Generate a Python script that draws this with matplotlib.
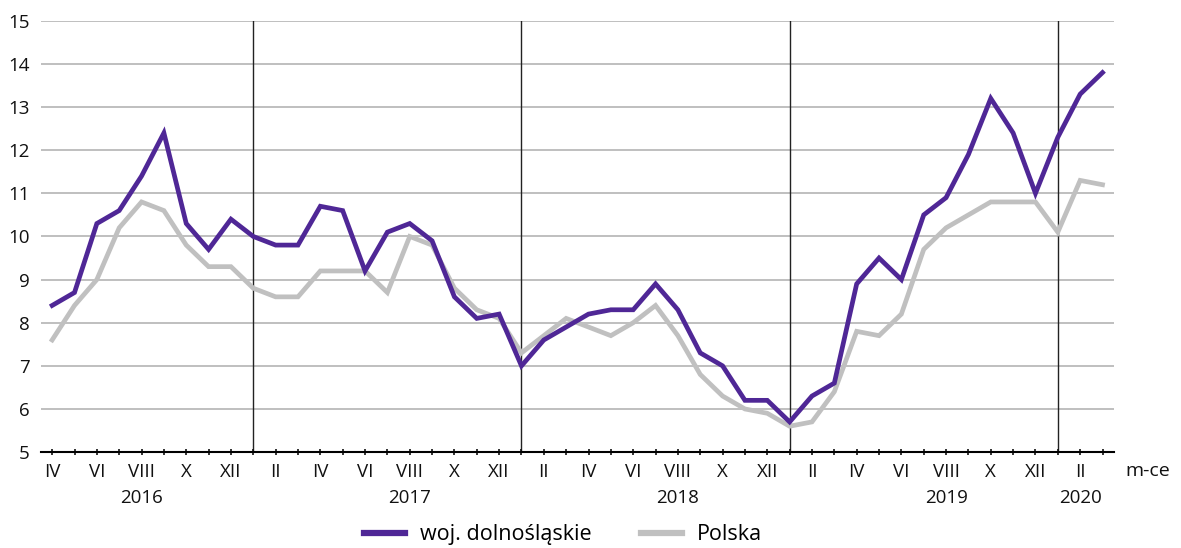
import matplotlib
matplotlib.use("Agg")
import matplotlib.pyplot as plt
import matplotlib.transforms as mtransforms
import numpy as np

plt.rcParams['font.family'] = ['Open Sans', 'DejaVu Sans']

months = ["IV","V","VI","VII","VIII","IX","X","XI","XII",
          "I","II","III","IV","V","VI","VII","VIII","IX","X","XI","XII",
          "I","II","III","IV","V","VI","VII","VIII","IX","X","XI","XII",
          "I","II","III","IV","V","VI","VII","VIII","IX","X","XI","XII",
          "I","II","III"]
years = ["2016", "2017", "2018", "2019", "2020"]
year_label_month = ["VIII", "VIII", "VIII", "VIII", "II"]

dolnoslaskie = [8.4, 8.7, 10.3, 10.6, 11.4, 12.4, 10.3, 9.7, 10.4,
                10.0, 9.8, 9.8, 10.7, 10.6, 9.2, 10.1, 10.3, 9.9, 8.6, 8.1, 8.2,
                7.0, 7.6, 7.9, 8.2, 8.3, 8.3, 8.9, 8.3, 7.3, 7.0, 6.2, 6.2,
                5.7, 6.3, 6.6, 8.9, 9.5, 9.0, 10.5, 10.9, 11.9, 13.2, 12.4, 11.0,
                12.3, 13.3, 13.8]
polska = [7.6, 8.4, 9.0, 10.2, 10.8, 10.6, 9.8, 9.3, 9.3,
          8.8, 8.6, 8.6, 9.2, 9.2, 9.2, 8.7, 10.0, 9.8, 8.8, 8.3, 8.1,
          7.3, 7.7, 8.1, 7.9, 7.7, 8.0, 8.4, 7.7, 6.8, 6.3, 6.0, 5.9,
          5.6, 5.7, 6.4, 7.8, 7.7, 8.2, 9.7, 10.2, 10.5, 10.8, 10.8, 10.8,
          10.1, 11.3, 11.2]
series_names = ["woj. dolnośląskie", "Polska"]
y_ticks = [5, 6, 7, 8, 9, 10, 11, 12, 13, 14, 15]

purple = "#4f2796"
gray = "#c0c0c0"

fig = plt.figure(figsize=(11.81, 5.48), dpi=100)
ax = fig.add_axes([0.0347, 0.175, 0.9083, 0.787])

x = np.arange(len(months))
ax.set_xlim(-0.5, len(months) - 0.5)
ax.set_ylim(5, 15)

# grid
for yv in y_ticks[1:]:
    ax.axhline(yv, color="#b4b4b4", lw=1.2, zorder=0)

# year separators at January
year_idx = [0]
for i, m in enumerate(months):
    if m == "I":
        ax.axvline(i, color="#222222", lw=1.0, zorder=1)
        year_idx.append(i)

l2, = ax.plot(x, polska, color=gray, lw=3.4, label=series_names[1], zorder=2, solid_joinstyle='miter')
l1, = ax.plot(x, dolnoslaskie, color=purple, lw=3.4, label=series_names[0], zorder=3, solid_joinstyle='miter')

for s in ["top", "right", "left"]:
    ax.spines[s].set_visible(False)
ax.spines["bottom"].set_color("#000000")
ax.spines["bottom"].set_linewidth(1.5)

ax.set_yticks(y_ticks)
ax.set_yticklabels([str(v) for v in y_ticks])
ax.tick_params(axis='y', length=0, labelsize=13.5, pad=8, colors="#111111")
ax.set_xticks(x)
ax.set_xticklabels([m if i % 2 == 0 else "" for i, m in enumerate(months)])
ax.tick_params(axis='x', direction='inout', length=5, width=1.2, labelsize=13.5, pad=5, colors="#111111")

# year labels
trans = mtransforms.blended_transform_factory(ax.transData, ax.transAxes)
for k, yr in enumerate(years):
    start = year_idx[k]
    end = year_idx[k + 1] if k + 1 < len(year_idx) else len(months)
    for i in range(start, end):
        if months[i] == year_label_month[k]:
            ax.text(i, -0.085, yr, transform=trans, ha='center', va='top', fontsize=13.5, color="#111111")
            break

ax.text(1.011, -0.022, "m-ce", transform=ax.transAxes, ha='left', va='top', fontsize=14, color="#111111")

leg = fig.legend(handles=[l1, l2], loc='lower center', bbox_to_anchor=(0.477, -0.03), ncol=2, frameon=False,
                 fontsize=15.5, handlelength=1.9, columnspacing=2.3, handletextpad=0.7)
for line in leg.get_lines():
    line.set_linewidth(4.5)

fig.savefig("out.png", dpi=100)
